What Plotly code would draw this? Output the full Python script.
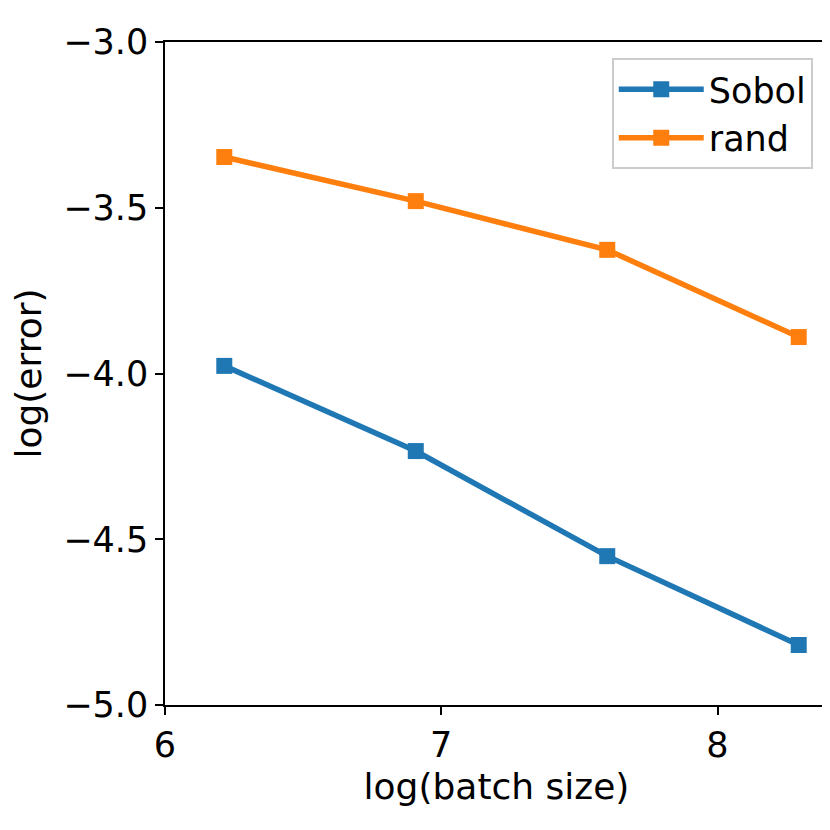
import numpy as np
import plotly.graph_objects as go

# batch sizes 500 .. 4000, plotted on natural log scale
batch_sizes = [500, 1000, 2000, 4000]
sobol_err = [-3.977, -4.234, -4.551, -4.819]
rand_err = [-3.347, -3.480, -3.627, -3.890]

x = np.log(batch_sizes)

fig = go.Figure()
fig.add_trace(go.Scatter(x=x, y=sobol_err, name="Sobol", mode="lines+markers",
                         line=dict(color="#1f77b4", width=5.5),
                         marker=dict(symbol="square", size=16)))
fig.add_trace(go.Scatter(x=x, y=rand_err, name="rand", mode="lines+markers",
                         line=dict(color="#ff7f0e", width=5.5),
                         marker=dict(symbol="square", size=16)))

axis_style = dict(showline=True, linecolor="black", linewidth=1.5, mirror=True,
                  ticks="outside", ticklen=8, tickwidth=1.5, tickcolor="black",
                  showgrid=False, zeroline=False, automargin=False,
                  tickfont=dict(size=35, color="black"))

fig.update_xaxes(range=[6, 8.4], dtick=1, tickformat="d",
                 title=dict(text="log(batch size)", font=dict(size=36, color="black"), standoff=10),
                 **axis_style)
fig.update_yaxes(range=[-5, -3], dtick=0.5, tickformat=".1f",
                 title=dict(text="log(error)", font=dict(size=36, color="black"), standoff=12),
                 **axis_style)

# the page body adds 8px, so the figure is a bit smaller than the window
fig.update_layout(width=822, height=822, plot_bgcolor="white", paper_bgcolor="white",
                  font=dict(family="DejaVu Sans", color="black"),
                  margin=dict(l=157, r=2, t=34, b=125),
                  showlegend=True,
                  legend=dict(x=0.977, y=0.976, xanchor="right", yanchor="top",
                              bgcolor="white", bordercolor="#cccccc", borderwidth=2,
                              font=dict(size=35), itemwidth=85))

fig.write_html("out.html")
